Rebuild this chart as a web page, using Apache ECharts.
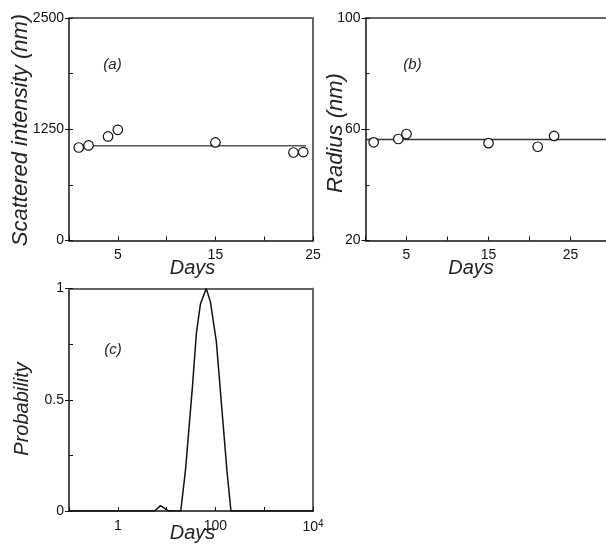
<!DOCTYPE html>
<html>
<head>
<meta charset="utf-8">
<script src="https://cdn.jsdelivr.net/npm/echarts@6/dist/echarts.min.js"></script>
<style>html,body{margin:0;padding:0;background:#fff}#c{width:606px;height:550px}</style>
</head>
<body>
<div id="c"></div>
<script>
// ---- data ----
const daysA = [1, 2, 4, 5, 15, 23, 24];
const intensityA = [1045, 1068, 1169, 1244, 1102, 989, 994];
const fitDaysA = [1, 24.3];
const fitIntensityA = [1064, 1064];

const daysB = [1, 4, 5, 15, 21, 23];
const radiusB = [55.3, 56.5, 58.3, 55.0, 53.7, 57.6];
const fitDaysB = [0, 30];
const fitRadiusB = [56.3, 56.3];

const distDays = [0.1, 5.7, 7.5, 9.96, 11.2, 19.5, 24.3, 33.9, 40.8, 49.3, 64.9, 79.1, 104.7, 172.6, 208.4, 10000];
const distProb = [0, 0, 0.024, 0.006, 0, 0, 0.18, 0.56, 0.80, 0.93, 1.0, 0.94, 0.76, 0.18, 0, 0];

const ticksA = [0, 1250, 2500];
const ticksB = [20, 60, 100];
const ticksC = [0, 0.5, 1];

// ---- chart ----
const FF = '"Liberation Sans", Arial, Helvetica, sans-serif';
const ink = '#111';
const frame = '#666';
const zip = (a, b) => a.map((v, i) => [v, b[i]]);

function xAx(grid, extra) {
  return Object.assign({
    gridIndex: grid, type: 'value',
    axisLine: { onZero: false, lineStyle: { color: ink, width: 1.5 } },
    axisTick: { inside: true, length: 4, lineStyle: { color: ink, width: 1 } },
    splitLine: { show: false },
    axisLabel: { margin: 8, fontSize: 14, color: ink, fontFamily: FF,
      formatter: v => (Math.abs(v - Math.round(v)) < 1e-6 && Math.round(v) % 10 === 5 ? String(Math.round(v)) : '') }
  }, extra);
}
function yMain(grid, min, max, interval, labels) {
  return {
    gridIndex: grid, type: 'value', min: min, max: max, interval: interval,
    axisLine: { onZero: false, lineStyle: { color: ink, width: 1.5 } },
    axisTick: { inside: true, length: 4, lineStyle: { color: ink, width: 1 } },
    splitLine: { show: false },
    axisLabel: { margin: 5, fontSize: 14, color: ink, fontFamily: FF,
      formatter: v => { const m = labels.find(t => Math.abs(t - v) < 1e-6); return m === undefined ? '' : String(m); } }
  };
}
function yOuter(grid, min, max, interval) {
  return {
    gridIndex: grid, type: 'value', min: min, max: max, interval: interval, position: 'left',
    axisLine: { show: false }, splitLine: { show: false }, axisLabel: { show: false },
    axisTick: { show: true, inside: false, length: 4, lineStyle: { color: ink, width: 1 } }
  };
}
function frameX(grid, type, min, max) {
  return { gridIndex: grid, type: type, min: min, max: max, position: 'top',
    axisLine: { onZero: false, lineStyle: { color: frame, width: 2 } },
    axisTick: { show: false }, axisLabel: { show: false }, splitLine: { show: false } };
}
function frameY(grid, min, max) {
  return { gridIndex: grid, type: 'value', min: min, max: max, position: 'right',
    axisLine: { onZero: false, lineStyle: { color: frame, width: 2 } },
    axisTick: { show: false }, axisLabel: { show: false }, splitLine: { show: false } };
}

const option = {
  animation: false,
  backgroundColor: '#fff',
  grid: [
    { left: 69, top: 18, width: 244, height: 222.5, outerBoundsMode: 'none', containLabel: false },
    { left: 365.5, top: 18, width: 246, height: 222.5, outerBoundsMode: 'none', containLabel: false },
    { left: 69, top: 288.5, width: 244, height: 222.5, outerBoundsMode: 'none', containLabel: false }
  ],
  xAxis: [
    xAx(0, { min: 0, max: 25, interval: 5 }),
    xAx(1, { min: 0, max: 30, interval: 5 }),
    {
      gridIndex: 2, type: 'log', logBase: 10, min: 0.1, max: 10000,
      axisLine: { onZero: false, lineStyle: { color: ink, width: 1.5 } },
      axisTick: { inside: true, length: 4, lineStyle: { color: ink, width: 1 } },
      splitLine: { show: false }, minorTick: { show: false },
      axisLabel: {
        margin: 8, fontSize: 14, color: ink, fontFamily: FF,
        formatter: v => {
          const e = Math.round(Math.log10(v));
          if (e === 0) return '1';
          if (e === 2) return '100';
          if (e === 4) return '{b|10}{s|4}';
          return '';
        },
        rich: {
          b: { fontSize: 14, fontFamily: FF, color: ink },
          s: { fontSize: 10, fontFamily: FF, color: ink, verticalAlign: 'top', padding: [0, 0, 6, 0] }
        }
      }
    },
    frameX(0, 'value', 0, 25),
    frameX(1, 'value', 0, 30),
    frameX(2, 'log', 0.1, 10000)
  ],
  yAxis: [
    yMain(0, 0, 2500, 625, ticksA),
    yMain(1, 20, 100, 20, ticksB),
    yMain(2, 0, 1, 0.25, ticksC),
    yOuter(0, 0, 2500, 1250),
    yOuter(1, 20, 100, 40),
    yOuter(2, 0, 1, 0.5),
    frameY(0, 0, 2500),
    frameY(2, 0, 1)
  ],
  series: [
    { type: 'line', xAxisIndex: 0, yAxisIndex: 0, data: zip(fitDaysA, fitIntensityA), showSymbol: false,
      lineStyle: { color: '#555', width: 1.5 }, z: 2 },
    { type: 'scatter', xAxisIndex: 0, yAxisIndex: 0, data: zip(daysA, intensityA), symbol: 'circle', symbolSize: 9.5,
      itemStyle: { color: '#fff', borderColor: ink, borderWidth: 1.2, opacity: 1 }, z: 3 },
    { type: 'line', xAxisIndex: 1, yAxisIndex: 1, data: zip(fitDaysB, fitRadiusB), showSymbol: false,
      lineStyle: { color: '#333', width: 1.5 }, z: 2 },
    { type: 'scatter', xAxisIndex: 1, yAxisIndex: 1, data: zip(daysB, radiusB), symbol: 'circle', symbolSize: 9.5,
      itemStyle: { color: '#fff', borderColor: ink, borderWidth: 1.2, opacity: 1 }, z: 3 },
    { type: 'line', xAxisIndex: 2, yAxisIndex: 2, data: zip(distDays, distProb), showSymbol: false,
      lineStyle: { color: ink, width: 1.5 }, z: 2 }
  ],
  graphic: [
    { type: 'text', x: 21, y: 130, rotation: Math.PI / 2,
      style: { text: 'Scattered intensity (nm)', font: 'italic 22px ' + FF, fill: '#222', align: 'center', verticalAlign: 'middle' } },
    { type: 'text', x: 336, y: 133, rotation: Math.PI / 2,
      style: { text: 'Radius (nm)', font: 'italic 22px ' + FF, fill: '#222', align: 'center', verticalAlign: 'middle' } },
    { type: 'text', x: 22, y: 409, rotation: Math.PI / 2,
      style: { text: 'Probability', font: 'italic 20px ' + FF, fill: '#222', align: 'center', verticalAlign: 'middle' } },
    { type: 'text', x: 192.5, y: 268, style: { text: 'Days', font: 'italic 20px ' + FF, fill: '#222', align: 'center', verticalAlign: 'middle' } },
    { type: 'text', x: 471, y: 268, style: { text: 'Days', font: 'italic 20px ' + FF, fill: '#222', align: 'center', verticalAlign: 'middle' } },
    { type: 'text', x: 192.5, y: 533, style: { text: 'Days', font: 'italic 20px ' + FF, fill: '#222', align: 'center', verticalAlign: 'middle' } },
    { type: 'text', x: 112.5, y: 65, style: { text: '(a)', font: 'italic 15px ' + FF, fill: '#222', align: 'center', verticalAlign: 'middle' } },
    { type: 'text', x: 412.5, y: 64.5, style: { text: '(b)', font: 'italic 15px ' + FF, fill: '#222', align: 'center', verticalAlign: 'middle' } },
    { type: 'text', x: 113, y: 350, style: { text: '(c)', font: 'italic 15px ' + FF, fill: '#222', align: 'center', verticalAlign: 'middle' } }
  ]
};

const chart = echarts.init(document.getElementById('c'), null, { renderer: 'canvas' });
chart.setOption(option);
</script>
</body>
</html>
